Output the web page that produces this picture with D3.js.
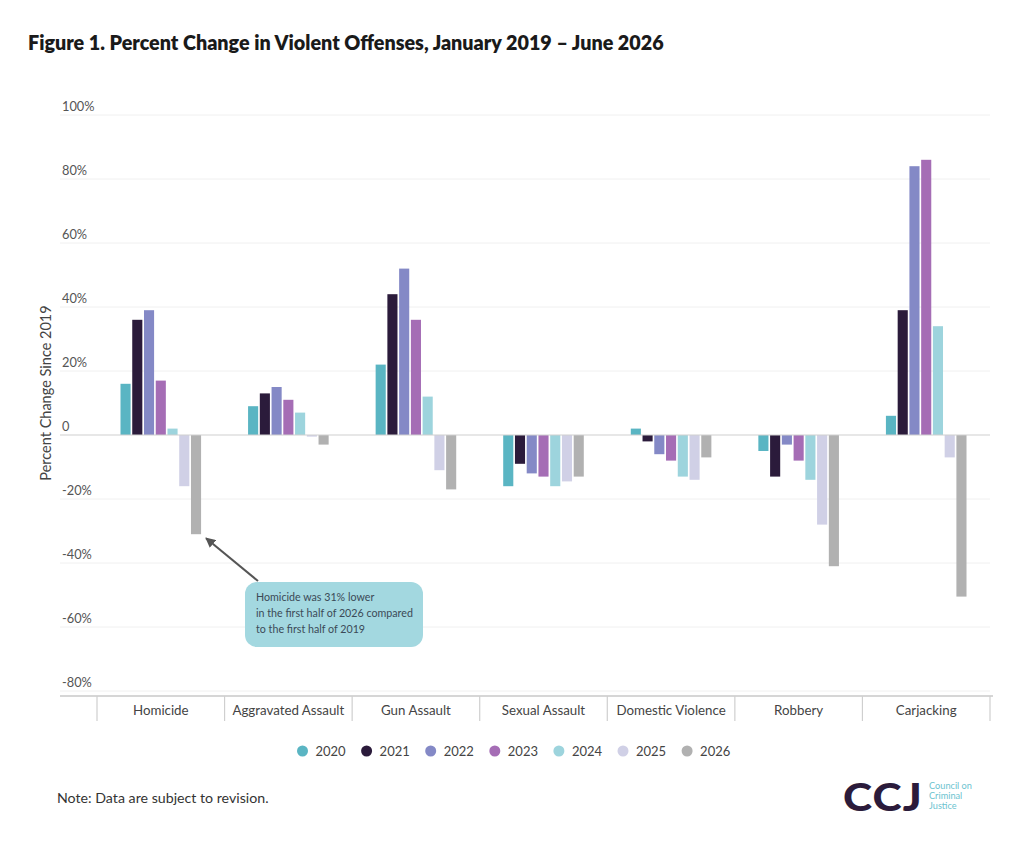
<!DOCTYPE html>
<html>
<head>
<meta charset="utf-8">
<script src="https://cdn.jsdelivr.net/npm/d3@7"></script>
<style>
  html, body { margin: 0; padding: 0; background: #fff; }
  svg { display: block; font-family: Lato, "Open Sans", sans-serif; }
</style>
</head>
<body>
<svg id="chart" width="1024" height="846"></svg>
<script>
// ---- data ----
const categories = ["Homicide", "Aggravated Assault", "Gun Assault", "Sexual Assault", "Domestic Violence", "Robbery", "Carjacking"];
const years = ["2020", "2021", "2022", "2023", "2024", "2025", "2026"];
const v2020 = [16, 9, 22, -16, 2, -5, 6];
const v2021 = [36, 13, 44, -9, -2, -13, 39];
const v2022 = [39, 15, 52, -12, -6, -3, 84];
const v2023 = [17, 11, 36, -13, -8, -8, 86];
const v2024 = [2, 7, 12, -16, -13, -14, 34];
const v2025 = [-16, -0.5, -11, -14.5, -14, -28, -7];
const v2026 = [-31, -3, -17, -13, -7, -41, -50.5];
const seriesValues = [v2020, v2021, v2022, v2023, v2024, v2025, v2026];
const colors = ["#5ab5c3", "#2b1b3b", "#8489c6", "#a56db5", "#9dd4dd", "#d0d0e6", "#b1b1b1"];
const yTicks = [100, 80, 60, 40, 20, 0, -20, -40, -60, -80];
const yTickLabels = ["100%", "80%", "60%", "40%", "20%", "0", "-20%", "-40%", "-60%", "-80%"];
const titleText = "Figure 1. Percent Change in Violent Offenses, January 2019 – June 2026";
const annotationLines = ["Homicide was 31% lower", "in the first half of 2026 compared", "to the first half of 2019"];

// ---- chart ----
const svg = d3.select("#chart");

const x0 = d3.scaleBand().domain(categories).range([97, 990]).paddingInner(0).paddingOuter(0);
const x1 = d3.scaleBand().domain(years).range([0, x0.bandwidth()]).paddingInner(0.14).paddingOuter(2.0);
const y = d3.scaleLinear().domain([-80, 100]).range([691, 115]);

// title
const title = svg.append("text")
  .attr("x", 28).attr("y", 50)
  .attr("font-size", 19).attr("font-weight", 800).attr("fill", "#1a1a1a")
  .text(titleText);
const tw = title.node().getComputedTextLength();
if (tw > 0) title.attr("font-size", 19 * 636 / tw);

// gridlines
svg.append("g").selectAll("line").data(yTicks.filter(d => d !== 0)).join("line")
  .attr("x1", 60).attr("x2", 990)
  .attr("y1", d => y(d)).attr("y2", d => y(d))
  .attr("stroke", "#f0f0f0").attr("stroke-width", 1);

// y labels
svg.append("g").selectAll("text").data(yTicks).join("text")
  .attr("x", 62).attr("y", d => y(d) - 4)
  .attr("font-size", 12.8).attr("fill", "#555")
  .text((d, i) => yTickLabels[i]);

// y axis title
svg.append("text")
  .attr("transform", "translate(51,393) rotate(-90)")
  .attr("text-anchor", "middle")
  .attr("font-size", 14.5).attr("fill", "#444")
  .text("Percent Change Since 2019");

// bars
const groups = svg.append("g").selectAll("g").data(categories).join("g")
  .attr("transform", d => `translate(${x0(d)},0)`);
groups.selectAll("rect")
  .data((c, ci) => years.map((yr, si) => ({ yr, si, v: seriesValues[si][ci] })))
  .join("rect")
  .attr("x", d => x1(d.yr))
  .attr("width", x1.bandwidth())
  .attr("y", d => y(Math.max(0, d.v)))
  .attr("height", d => Math.abs(y(d.v) - y(0)))
  .attr("fill", d => colors[d.si]);

// zero line
svg.append("line")
  .attr("x1", 60).attr("x2", 990).attr("y1", y(0)).attr("y2", y(0))
  .attr("stroke", "#cfcfcf").attr("stroke-width", 1.2);

// x axis
const axisY = 696;
svg.append("line")
  .attr("x1", 60).attr("x2", 993).attr("y1", axisY).attr("y2", axisY)
  .attr("stroke", "#c8c8c8").attr("stroke-width", 1.5);
const boundaries = categories.map(c => x0(c)).concat([x0.range()[1]]);
svg.append("g").selectAll("line").data(boundaries).join("line")
  .attr("x1", d => d).attr("x2", d => d).attr("y1", axisY).attr("y2", 721)
  .attr("stroke", "#cfcfcf").attr("stroke-width", 1.2);
svg.append("g").selectAll("text").data(categories).join("text")
  .attr("x", d => x0(d) + x0.bandwidth() / 2).attr("y", 715)
  .attr("text-anchor", "middle")
  .attr("font-size", 13.3).attr("fill", "#444")
  .text(d => d);

// legend
const legend = svg.append("g").selectAll("g").data(years).join("g")
  .attr("transform", (d, i) => `translate(${302.5 + i * 64.1},751)`);
legend.append("circle").attr("r", 5.5).attr("fill", (d, i) => colors[i]);
legend.append("text").attr("x", 13).attr("y", 4.5)
  .attr("font-size", 13).attr("fill", "#444").text(d => d);

// annotation
const defs = svg.append("defs");
defs.append("marker").attr("id", "arrow")
  .attr("viewBox", "0 0 10 10").attr("refX", 9).attr("refY", 5)
  .attr("markerWidth", 5).attr("markerHeight", 5).attr("orient", "auto")
  .append("path").attr("d", "M0,0 L10,5 L0,10 Z").attr("fill", "#555");
const hx = x0("Homicide") + x1("2026") + x1.bandwidth() / 2;
svg.append("line")
  .attr("x1", 258).attr("y1", 581)
  .attr("x2", hx + 10).attr("y2", y(-31) + 4)
  .attr("stroke", "#555").attr("stroke-width", 2)
  .attr("marker-end", "url(#arrow)");
svg.append("rect")
  .attr("x", 245).attr("y", 582).attr("width", 178).attr("height", 65)
  .attr("rx", 12).attr("fill", "#a3d8e0");
svg.append("g").selectAll("text").data(annotationLines).join("text")
  .attr("x", 256).attr("y", (d, i) => 601 + i * 16)
  .attr("font-size", 10.7).attr("fill", "#3b4a57")
  .text(d => d);

// note
svg.append("text").attr("x", 57).attr("y", 803)
  .attr("font-size", 14.2).attr("fill", "#333")
  .text("Note: Data are subject to revision.");

// logo
const logo = svg.append("text").attr("x", 843).attr("y", 811)
  .attr("font-size", 37).attr("font-weight", 900).attr("fill", "#2b1b3b")
  .attr("letter-spacing", 1)
  .text("CCJ");
const lw = logo.node().getComputedTextLength();
if (lw > 0) logo.attr("textLength", 80).attr("lengthAdjust", "spacingAndGlyphs");
svg.append("g").selectAll("text").data(["Council on", "Criminal", "Justice"]).join("text")
  .attr("x", 929).attr("y", (d, i) => 789 + i * 9.8)
  .attr("font-size", 9.2).attr("fill", "#6cc3cf")
  .text(d => d);
</script>
</body>
</html>
